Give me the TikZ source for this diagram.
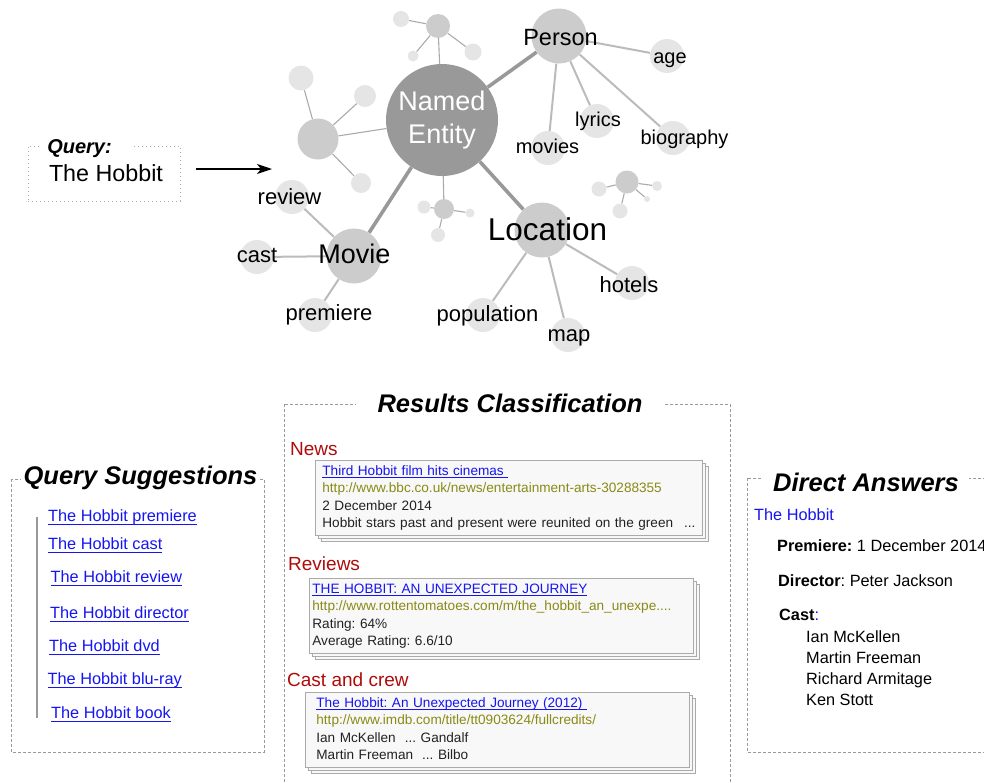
\documentclass[tikz,border=0pt]{standalone}
\usepackage{fontspec}
\setmainfont{Liberation Sans}
\usetikzlibrary{arrows.meta,backgrounds,shadows}

\definecolor{coregrey}{HTML}{999999}
\definecolor{hubgrey}{HTML}{CCCCCC}
\definecolor{leafgrey}{HTML}{E5E5E5}
\definecolor{branchgrey}{HTML}{BBBBBB}
\definecolor{twiggrey}{HTML}{AAAAAA}
\definecolor{framegrey}{HTML}{999999}
\definecolor{linkblue}{HTML}{1515F0}
\definecolor{urlolive}{HTML}{8A8A16}
\definecolor{headred}{HTML}{B00A0A}
\definecolor{cardline}{HTML}{AAAAAA}
\definecolor{cardbg}{HTML}{F8F8F8}
\definecolor{inktext}{HTML}{222222}

\newcommand{\underlink}[3]{\setbox0=\hbox{#3}\leavevmode\rlap{\rule[-#1]{\wd0}{#2}}\box0}
\newcommand{\cardlink}[1]{\textcolor{linkblue}{\underlink{3pt}{1pt}{#1}}}
\newcommand{\sugglink}[1]{\textcolor{linkblue}{\underlink{3.6pt}{1.8pt}{#1}}}
\newcommand{\weburl}[1]{\textcolor{urlolive}{#1}}

\begin{document}
\frenchspacing
\begin{tikzpicture}[x=1pt,y=-1pt,
	core/.style={circle, fill=coregrey, minimum size=112pt, inner sep=0pt, text=white, align=center, font=\fontsize{27}{33}\selectfont},
	hub/.style={circle, fill=hubgrey, minimum size=55pt, inner sep=0pt},
	leaf/.style={circle, fill=leafgrey, minimum size=34pt, inner sep=0pt},
	knot/.style={circle, fill=hubgrey, minimum size=#1, inner sep=0pt},
	bud/.style={circle, fill=leafgrey, minimum size=#1, inner sep=0pt},
	hubtag/.style={text depth=0pt, inner sep=0pt},
	smalltag/.style={font=\fontsize{20}{24}\selectfont, text height=14.3pt, text depth=0pt, inner sep=0pt},
	midtag/.style={font=\fontsize{22}{26}\selectfont, text height=15.7pt, text depth=0pt, inner sep=0pt},
	trunk/.style={coregrey, line width=3.6pt},
	branch/.style={branchgrey, line width=2pt},
	twig/.style={twiggrey, line width=1.1pt},
	pointer/.style={-{Stealth[length=15pt,width=10pt,inset=4pt]}, line width=1.4pt, shorten <=15pt},
	querybox/.style={draw=twiggrey, dash pattern=on 1.2pt off 2.8pt, line width=1pt, minimum width=152pt, minimum height=55pt, font=\fontsize{23.3}{28}\selectfont},
	querytitle/.style={fill=white, font=\bfseries\itshape\fontsize{20}{24}\selectfont, inner xsep=6pt, inner ysep=2pt, text height=14.3pt, text depth=0pt},
	frame/.style={framegrey, dash pattern=on 3pt off 2pt, line width=1pt},
	paneltitle/.style={fill=white, font=\bfseries\itshape\fontsize{25.5}{30}\selectfont, inner ysep=3pt, text height=18.2pt, text depth=0pt},
	section/.style={anchor=west, text=headred, font=\fontsize{19}{22}\selectfont, inner sep=0pt, text height=13.6pt, text depth=0pt},
	card/.style={draw=cardline, fill=cardbg, line width=0.8pt, anchor=north west, align=left, text=inktext,
		font=\fontsize{13.6}{17.5}\selectfont, inner ysep=2.5pt, minimum height=75pt,
		general shadow={shadow xshift=6pt, shadow yshift=-6pt, fill=cardbg, draw=cardline, line width=0.8pt},
		general shadow={shadow xshift=3pt, shadow yshift=-3pt, fill=cardbg, draw=cardline, line width=0.8pt}},
	suggestion/.style={anchor=west, font=\fontsize{16.3}{20}\selectfont, inner sep=0pt, text height=11.7pt, text depth=0pt},
	answer/.style={anchor=west, font=\fontsize{16.3}{21.3}\selectfont, inner sep=0pt, text height=11.7pt, text depth=0pt},
	bar/.style={coregrey, line width=2pt}]
\useasboundingbox (0,0) rectangle (984,782);
\clip (0,0) rectangle (984,782);

% query and arrow into the graph
\node[querybox] (query) at (104,173.5) {\hspace*{4pt}The Hobbit};
\node[querytitle] (querylabel) at (86,146) {Query:\hspace*{13pt}};
\coordinate (graphin) at (272,169);
\draw[pointer] (query.east |- graphin) -- (graphin);

% entity graph
\node[core] (entity) at (442,120) {Named\\Entity};
\node[hub, label={[hubtag, font=\fontsize{23.5}{28}\selectfont, text height=16.8pt, xshift=1.5pt, yshift=-1pt]center:Person}] (person) at (559,36) {};
\node[hub, label={[hubtag, font=\fontsize{31.5}{36}\selectfont, text height=22.5pt, xshift=5.5pt, yshift=1pt]center:Location}] (location) at (542,230) {};
\node[hub, label={[hubtag, font=\fontsize{27}{32}\selectfont, text height=19.3pt, xshift=0.5pt, yshift=2pt]center:Movie}] (movie) at (354,256) {};

\node[leaf, label={[smalltag, xshift=3pt]center:age}] (age) at (667,56) {};
\node[leaf, label={[smalltag, xshift=1pt, yshift=2pt]center:lyrics}] (lyrics) at (597,121) {};
\node[leaf, label={[smalltag, xshift=-0.5pt, yshift=2pt]center:movies}] (movies) at (548,148) {};
\node[leaf, label={[smalltag, xshift=11.5pt, yshift=1pt]center:biography}] (biography) at (673,138) {};

\node[leaf, label={[midtag, xshift=-3pt, yshift=-2pt]center:hotels}] (hotels) at (632,283) {};
\node[leaf, label={[midtag, xshift=1pt, yshift=1pt]center:map}] (map) at (568,335) {};
\node[leaf, label={[midtag, xshift=4.5pt, yshift=1pt]center:population}] (population) at (483,315) {};

\node[leaf, label={[midtag, xshift=-2.5pt]center:review}] (review) at (292,197) {};
\node[leaf, label={[midtag, yshift=2pt]center:cast}] (cast) at (257,257) {};
\node[leaf, label={[midtag, xshift=14pt, yshift=2pt]center:premiere}] (premiere) at (315,315) {};

% unnamed clusters
\node[knot=41pt] (wknot) at (318,139) {};
\node[bud=25pt] (wbud1) at (301,78) {};
\node[bud=22pt] (wbud2) at (365,96) {};
\node[bud=20pt] (wbud3) at (361,183) {};

\node[knot=24pt] (nknot) at (438,26) {};
\node[bud=16pt] (nbud1) at (401,19) {};
\node[bud=11pt] (nbud2) at (413,56) {};
\node[bud=17pt] (nbud3) at (473,52) {};

\node[knot=20pt] (sknot) at (444,209) {};
\node[bud=13pt] (sbud1) at (424,207) {};
\node[bud=14pt] (sbud2) at (438,235) {};
\node[bud=9pt] (sbud3) at (470,213) {};

\node[knot=23pt] (eknot) at (627,182) {};
\node[bud=15pt] (ebud1) at (599,189) {};
\node[bud=15pt] (ebud2) at (620,211) {};
\node[bud=10pt] (ebud3) at (657,186) {};
\node[bud=6pt] (ebud4) at (647,199) {};

\begin{pgfonlayer}{background}
	\draw[trunk] (entity) -- (person);
	\draw[trunk] (entity) -- (location);
	\draw[trunk] (entity) -- (movie);
	\draw[branch] (person) -- (age);
	\draw[branch] (person) -- (lyrics);
	\draw[branch] (person) -- (movies);
	\draw[branch] (person) -- (biography);
	\draw[branch] (location) -- (hotels);
	\draw[branch] (location) -- (map);
	\draw[branch] (location) -- (population);
	\draw[branch] (movie) -- (review);
	\draw[branch] (movie) -- (cast);
	\draw[branch] (movie) -- (premiere);
	\draw[twig] (entity) -- (wknot);
	\draw[twig] (entity) -- (nknot);
	\draw[twig] (entity) -- (sknot);
	\draw[twig] (wknot) -- (wbud1);
	\draw[twig] (wknot) -- (wbud2);
	\draw[twig] (wknot) -- (wbud3);
	\draw[twig] (nknot) -- (nbud1);
	\draw[twig] (nknot) -- (nbud2);
	\draw[twig] (nknot) -- (nbud3);
	\draw[twig] (sknot) -- (sbud1);
	\draw[twig] (sknot) -- (sbud2);
	\draw[twig] (sknot) -- (sbud3);
	\draw[twig] (eknot) -- (ebud1);
	\draw[twig] (eknot) -- (ebud2);
	\draw[twig] (eknot) -- (ebud3);
	\draw[twig] (eknot) -- (ebud4);
\end{pgfonlayer}

% query suggestions
\draw[frame] (11,479) rectangle (264,752);
\node[paneltitle, inner xsep=3pt] (suggtitle) at (140.5,475.5) {Query Suggestions};
\draw[bar] (37,517) -- (37,718);
\node[suggestion] (s1) at (48,516) {\sugglink{The Hobbit premiere}};
\node[suggestion] (s2) at (48,544) {\sugglink{The Hobbit cast}};
\node[suggestion] (s3) at (50.5,577) {\sugglink{The Hobbit review}};
\node[suggestion] (s4) at (50,613) {\sugglink{The Hobbit director}};
\node[suggestion] (s5) at (49,646) {\sugglink{The Hobbit dvd}};
\node[suggestion] (s6) at (47.5,679) {\sugglink{The Hobbit blu-ray}};
\node[suggestion] (s7) at (51,713) {\sugglink{The Hobbit book}};

% results classification
\draw[frame] (284,404) rectangle (730,800);
\node[paneltitle, inner xsep=22pt] (restitle) at (510,403.5) {Results Classification};

\node[section] (newshead) at (290,449) {News};
\node[card, inner xsep=7pt, text width=373pt] (newscard) at (315,460) {\strut\cardlink{Third Hobbit film hits cinemas\ }\\
	\weburl{http://www.bbc.co.uk/news/entertainment-arts-30288355}\\
	2 December 2014\\
	Hobbit stars past and present were reunited on the green\hfill...\strut};

\node[section] (reviewhead) at (288,564) {Reviews};
\node[card, inner xsep=3pt, text width=378pt] (reviewcard) at (309,578) {\strut\cardlink{THE HOBBIT: AN UNEXPECTED JOURNEY}\\
	\weburl{http://www.rottentomatoes.com/m/the\_hobbit\_an\_unexpe....}\\
	Rating: 64\%\\
	Average Rating: 6.6/10\strut};

\node[section] (casthead) at (287,680) {Cast and crew};
\node[card, inner xsep=11pt, text width=362pt] (castcard) at (305,692) {\strut\cardlink{The Hobbit: An Unexpected Journey (2012)\ }\\
	\weburl{http://www.imdb.com/title/tt0903624/fullcredits/}\\
	Ian McKellen\ \ ... Gandalf\\
	Martin Freeman\ \ ... Bilbo\strut};

% direct answers
\draw[frame] (747,478) rectangle (1000,752);
\node[paneltitle, inner xsep=10pt] (anstitle) at (866,482) {Direct Answers};
\node[answer, text=linkblue] (answhat) at (754,515) {The Hobbit};
\node[answer] (premiereline) at (777,546) {\textbf{Premiere:} 1 December 2014};
\node[answer] (directorline) at (778,581) {\textbf{Director}: Peter Jackson};
\node[answer] (castline) at (779,615) {\textbf{Cast}\textcolor{linkblue}{:}};
\node[answer, anchor=north west, align=left, text height=, text depth=] (castlist) at (806,630) {Ian McKellen\\Martin Freeman\\Richard Armitage\\Ken Stott};
\end{tikzpicture}
\end{document}
